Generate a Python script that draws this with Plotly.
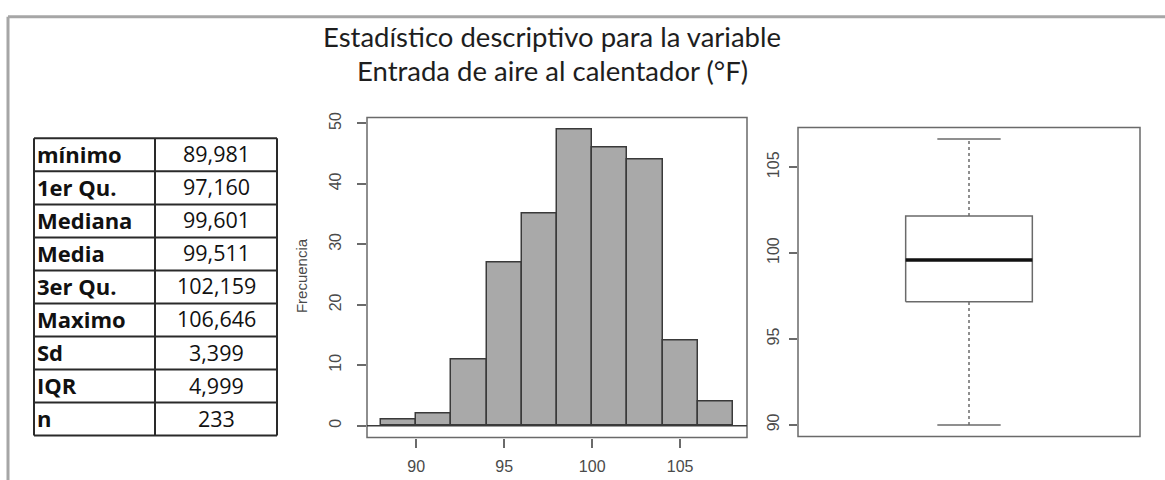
import plotly.graph_objects as go

# ---------------- data ----------------
stat_labels = ["mínimo", "1er Qu.", "Mediana", "Media", "3er Qu.", "Maximo", "Sd", "IQR", "n"]
stat_values = ["89,981", "97,160", "99,601", "99,511", "102,159", "106,646", "3,399", "4,999", "233"]

bin_edges_left = [88, 90, 92, 94, 96, 98, 100, 102, 104, 106]
bin_width = 2
counts = [1, 2, 11, 27, 35, 49, 46, 44, 14, 4]

box_min = 89.981
box_q1 = 97.160
box_median = 99.601
box_q3 = 102.159
box_max = 106.646

hist_xticks = [90, 95, 100, 105]
hist_yticks = [0, 10, 20, 30, 40, 50]
box_yticks = [90, 95, 100, 105]

title_lines = ["Estadístico descriptivo para la variable", "Entrada de aire al calentador (°F)"]

# ---------------- figure ----------------
W, H = 1165, 480
def px(x):
    return x / W
def py(y):
    return 1 - y / H

AX_FONT = dict(family="Liberation Sans, Arial, sans-serif", size=16, color="#4a4a4a")
FRAME = "#6a6a6a"

fig = go.Figure()

centers = [e + bin_width / 2 for e in bin_edges_left]
fig.add_trace(go.Bar(
    x=centers, y=counts, width=[bin_width] * len(counts),
    marker=dict(color="#a9a9a9", line=dict(color="#3a3a3a", width=1.5)),
    xaxis="x", yaxis="y", showlegend=False, hoverinfo="x+y",
))

# boxplot drawn R-style
bx = 1.0
hw = 0.2   # box half width
cw = 0.1   # staple half width
fig.add_trace(go.Scatter(
    x=[bx - hw, bx + hw, bx + hw, bx - hw, bx - hw],
    y=[box_q1, box_q1, box_q3, box_q3, box_q1],
    mode="lines", line=dict(color=FRAME, width=1.5),
    xaxis="x2", yaxis="y2", showlegend=False, hoverinfo="skip"))
fig.add_trace(go.Scatter(
    x=[bx - hw, bx + hw], y=[box_median, box_median],
    mode="lines", line=dict(color="#111111", width=3.5),
    xaxis="x2", yaxis="y2", showlegend=False, hoverinfo="skip"))
for lo, hi in [(box_min, box_q1), (box_q3, box_max)]:
    fig.add_trace(go.Scatter(
        x=[bx, bx], y=[lo, hi], mode="lines",
        line=dict(color=FRAME, width=1.5, dash="3px,3px"),
        xaxis="x2", yaxis="y2", showlegend=False, hoverinfo="skip"))
for v in [box_min, box_max]:
    fig.add_trace(go.Scatter(
        x=[bx - cw, bx + cw], y=[v, v], mode="lines",
        line=dict(color=FRAME, width=1.5),
        xaxis="x2", yaxis="y2", showlegend=False, hoverinfo="skip"))

shapes = []
annotations = []

# outer grey frame
shapes.append(dict(type="line", xref="paper", yref="paper", x0=px(8), x1=px(1170), y0=py(11), y1=py(11),
                   line=dict(color="#a6a6a6", width=3)))
shapes.append(dict(type="line", xref="paper", yref="paper", x0=px(8), x1=px(8), y0=py(11), y1=py(490),
                   line=dict(color="#a6a6a6", width=3)))

# plot frames
for xr, yr in [("x domain", "y domain"), ("x2 domain", "y2 domain")]:
    shapes.append(dict(type="rect", xref=xr, yref=yr, x0=0, x1=1, y0=0, y1=1,
                       line=dict(color=FRAME, width=1.5), layer="above"))
# zero line of histogram
shapes.append(dict(type="line", xref="x domain", yref="y", x0=0, x1=1, y0=0, y1=0,
                   line=dict(color="#3a3a3a", width=1.5), layer="above"))

# title
for i, t in enumerate(title_lines):
    annotations.append(dict(text=t, xref="paper", yref="paper", x=px(552), y=py(31 + 34 * i),
                            xanchor="center", yanchor="middle", showarrow=False,
                            font=dict(family="Lato, Open Sans, sans-serif", size=27.5, color="#1e1e1e")))

# Frecuencia label
annotations.append(dict(text="Frecuencia", xref="paper", yref="paper", x=px(301.5), y=py(273),
                        textangle=-90, xanchor="center", yanchor="middle", showarrow=False,
                        font=dict(family="Liberation Sans, Arial, sans-serif", size=15, color="#4a4a4a")))

# table
tx0, tx1, txm = 34, 277, 155
ty0, ty1 = 134, 435
n = len(stat_labels)
rh = (ty1 - ty0) / n
TL = "#2a2a2a"
for k in range(n + 1):
    yy = ty0 + k * rh
    shapes.append(dict(type="line", xref="paper", yref="paper", x0=px(tx0), x1=px(tx1), y0=py(yy), y1=py(yy),
                       line=dict(color=TL, width=2)))
for xx in [tx0, txm, tx1]:
    shapes.append(dict(type="line", xref="paper", yref="paper", x0=px(xx), x1=px(xx), y0=py(ty0), y1=py(ty1),
                       line=dict(color=TL, width=2)))
for k, (lab, val) in enumerate(zip(stat_labels, stat_values)):
    yc = ty0 + (k + 0.5) * rh - 1
    annotations.append(dict(text="<b>%s</b>" % lab, xref="paper", yref="paper", x=px(tx0 + 1), y=py(yc),
                            xanchor="left", yanchor="middle", showarrow=False,
                            font=dict(family="Open Sans, sans-serif", size=22, color="#111111")))
    annotations.append(dict(text=val, xref="paper", yref="paper", x=px((txm + tx1) / 2), y=py(yc),
                            xanchor="center", yanchor="middle", showarrow=False,
                            font=dict(family="Open Sans, sans-serif", size=21.5, color="#111111")))

fig.update_layout(
    width=W, height=H, margin=dict(l=0, r=0, t=0, b=0),
    paper_bgcolor="white", plot_bgcolor="white",
    bargap=0,
    xaxis=dict(domain=[px(367), px(747)], range=[87.2, 108.8], tickvals=hist_xticks,
               ticks="outside", ticklen=9, tickcolor=FRAME, tickwidth=1.5,
               showgrid=False, zeroline=False, showline=False, tickfont=AX_FONT,
               ticklabelstandoff=5, anchor="y"),
    yaxis=dict(domain=[py(437), py(113)], range=[-1.96, 50.96], tickvals=hist_yticks,
               ticks="outside", ticklen=9, tickcolor=FRAME, tickwidth=1.5, tickangle=-90,
               showgrid=False, zeroline=False, showline=False, tickfont=AX_FONT,
               ticklabelstandoff=10, anchor="x"),
    xaxis2=dict(domain=[px(798), px(1140)], range=[0.46, 1.54], showticklabels=False, ticks="",
                showgrid=False, zeroline=False, showline=False, anchor="y2"),
    yaxis2=dict(domain=[py(436), py(123)], range=[89.314, 107.313], tickvals=box_yticks,
                ticks="outside", ticklen=8, tickcolor=FRAME, tickwidth=1.5, tickangle=-90,
                showgrid=False, zeroline=False, showline=False, tickfont=AX_FONT,
                ticklabelstandoff=4, anchor="x2"),
    shapes=shapes, annotations=annotations,
)

fig.write_html("out.html")
